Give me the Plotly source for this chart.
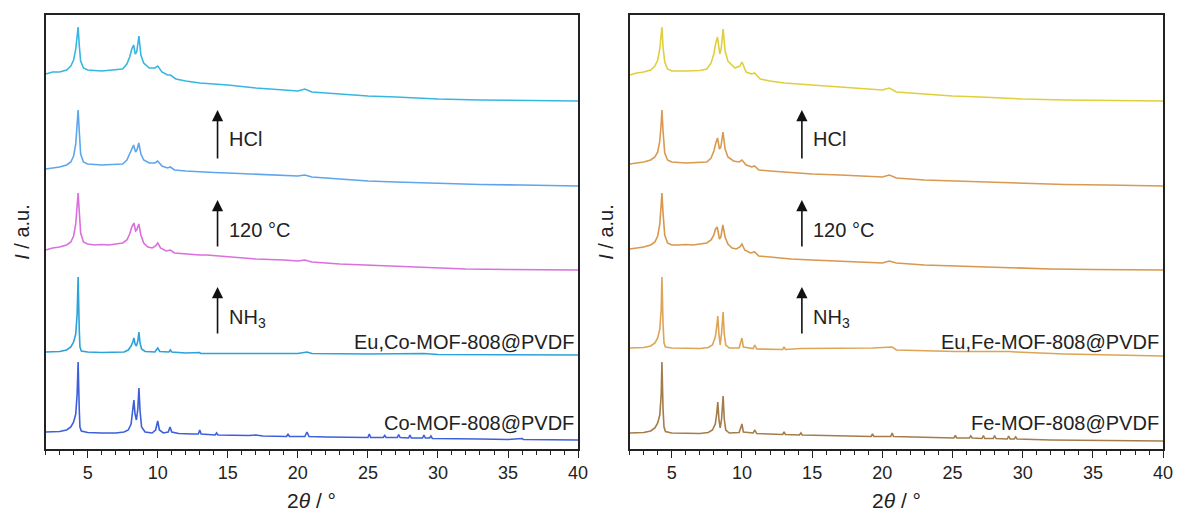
import plotly.graph_objects as go

# ---------------- data (heights, arbitrary units) ----------------
# Left panel: Co series
co_x = [2.0, 2.5, 3.0, 3.5, 3.8, 4.0, 4.15, 4.25, 4.32, 4.4, 4.45, 4.55, 5.0, 6.0, 7.0, 7.6, 7.9, 8.1, 8.22, 8.3, 8.38, 8.48,
        8.58, 8.66, 8.74, 8.85, 9.1, 9.6, 9.85, 10.0, 10.12, 10.4, 10.75, 10.88, 11.0, 11.5, 12.5, 12.9, 13.0, 13.1, 14.1, 14.2,
        14.3, 15.5, 16.5, 17.0, 17.5, 19.2, 19.3, 19.4, 20.5, 20.65, 20.8, 22.0, 23.0, 25.0, 25.1, 25.2, 26.1, 26.2, 26.3, 27.1,
        27.2, 27.3, 27.9, 28.0, 28.1, 28.9, 29.0, 29.1, 29.4, 29.5, 29.6, 31.0, 33.0, 35.0, 36.0, 36.1, 38.0, 40.0]
co_y = [17, 17, 17.5, 19, 22, 27, 35, 55, 87, 40, 22, 18, 16.5, 16, 16, 17, 19, 25, 38, 49, 35, 29,
        40, 61, 38, 22, 17, 16, 19, 28, 19, 16, 17, 22, 17, 15.5, 15, 15, 19, 15, 14, 16,
        14, 13.5, 13.5, 14, 13, 12.5, 15, 12.5, 12.5, 17, 12.5, 12, 12, 11.5, 15, 11.5, 11.5, 13.5, 11.5, 11.5,
        14.5, 11.5, 11, 14, 11, 11, 14, 11, 11, 13, 10.5, 10, 10, 9.5, 10.5, 9.5, 9, 9]

euco_x = [2.0, 3.0, 3.5, 3.8, 4.0, 4.15, 4.25, 4.32, 4.4, 4.45, 4.55, 5.0, 6.0, 7.0, 7.6, 7.9, 8.1, 8.22, 8.3, 8.38, 8.48,
          8.58, 8.66, 8.74, 8.85, 9.1, 9.8, 10.0, 10.15, 10.8, 10.9, 11.0, 12.0, 13.0, 13.05, 15.0, 19.3, 20.0, 20.65, 21.0,
          25.0, 27.2, 29.0, 30.0, 35.0, 40.0]
euco_y = [97, 97.5, 99, 102, 107, 115, 135, 172, 120, 102, 98, 97, 96.5, 96.5, 97, 99, 103, 107, 111, 105, 103,
          108, 117, 106, 100, 97.5, 97, 101, 97.5, 97, 99, 97, 96, 96.5, 95.5, 95.5, 96, 95.5, 97, 95.5,
          95, 95.5, 95.5, 94.5, 94, 94]

co120_x = [2.0, 2.5, 3.0, 3.5, 3.8, 4.0, 4.15, 4.25, 4.32, 4.4, 4.5, 4.7, 5.0, 5.5, 6.0, 6.5, 7.0, 7.5, 7.8, 8.0, 8.15,
           8.3, 8.42, 8.5, 8.65, 8.8, 9.0, 9.3, 9.6, 9.85, 10.0, 10.2, 10.6, 10.9, 11.2, 12.0, 13.0, 13.5, 15.0, 17.0, 19.0,
           20.0, 20.5, 21.0, 23.0, 25.0, 27.0, 29.0, 30.0, 32.0, 35.0, 38.0, 40.0]
co120_y = [199, 201, 202, 204, 207, 213, 225, 245, 256, 238, 216, 207, 205, 204, 204.5, 204, 205, 206, 209, 215, 222,
           226, 218, 219, 225, 214, 206, 202, 201, 203, 206, 201, 198, 199, 196, 195, 194, 194, 192, 190, 189,
           188, 189, 187, 185, 184, 183, 182, 181, 180, 179.5, 179, 179]

cohcl_x = [2.0, 2.5, 3.0, 3.5, 3.8, 4.0, 4.15, 4.25, 4.32, 4.4, 4.5, 4.7, 5.0, 6.0, 7.0, 7.5, 7.8, 8.0, 8.15, 8.28, 8.42,
           8.52, 8.65, 8.8, 9.0, 9.4, 9.8, 10.0, 10.3, 10.7, 10.9, 11.2, 12.0, 13.0, 14.0, 15.0, 17.0, 19.0, 20.0, 20.5,
           21.0, 23.0, 25.0, 27.0, 30.0, 33.0, 36.0, 40.0]
cohcl_y = [280, 281, 282, 284, 287, 293, 305, 325, 339, 318, 295, 287, 285, 284, 284.5, 285, 289, 295, 301, 304, 297,
           299, 306, 295, 289, 286, 286, 288, 283, 281, 282, 279, 278, 277, 276.5, 276, 275, 274, 273, 274,
           272, 270, 268, 267, 265.5, 264.5, 264, 263]

cofin_x = [2.0, 2.5, 3.0, 3.5, 3.8, 4.0, 4.15, 4.25, 4.32, 4.4, 4.5, 4.7, 5.0, 6.0, 7.0, 7.5, 7.8, 8.0, 8.15, 8.28, 8.4,
           8.5, 8.66, 8.8, 9.0, 9.4, 9.8, 10.0, 10.3, 10.7, 10.9, 11.3, 12.0, 13.0, 14.0, 15.0, 17.0, 19.0, 20.0, 20.5,
           21.0, 23.0, 25.0, 27.0, 30.0, 33.0, 36.0, 40.0]
cofin_y = [375, 377, 377, 379, 383, 389, 400, 415, 422, 404, 388, 381, 379, 378, 379, 380, 385, 392, 400, 404, 395,
           397, 413, 394, 386, 381, 381, 383, 377, 374, 374, 370, 368, 366, 365, 364, 361, 359, 358, 360,
           357, 355, 353, 352, 350, 349, 348.5, 348]

# Right panel: Fe series
fe_x = [2.0, 3.0, 3.5, 3.8, 4.0, 4.15, 4.25, 4.3, 4.38, 4.45, 4.55, 5.0, 7.0, 7.6, 7.9, 8.1, 8.2, 8.28, 8.36, 8.45, 8.55,
        8.66, 8.74, 8.85, 9.1, 9.8, 10.0, 10.1, 10.8, 10.92, 11.05, 12.9, 13.0, 13.1, 14.1, 14.2, 14.3, 17.0, 19.2, 19.3,
        19.4, 20.6, 20.7, 20.8, 25.1, 25.2, 25.3, 26.2, 26.3, 26.4, 27.1, 27.2, 27.3, 27.9, 28.0, 28.1, 28.9, 29.0, 29.1,
        29.4, 29.5, 29.6, 32.0, 36.0, 40.0]
fe_y = [16, 16.5, 18, 21, 26, 34, 55, 87, 40, 22, 17.5, 16, 15.5, 16.5, 19, 25, 35, 47, 30, 21, 30,
        53, 30, 19, 16, 16.5, 25, 17, 16, 19, 15.5, 14.5, 17, 14.5, 14, 16, 14, 13.5, 12.5, 15,
        12.5, 12.5, 16, 12.5, 11, 13.5, 11, 11, 13, 11, 10.5, 13.5, 10.5, 10.5, 13.5, 10.5, 10, 13, 10,
        10, 12, 10, 9, 8.5, 8]

eufe_x = [2.0, 3.0, 3.5, 3.8, 4.0, 4.15, 4.25, 4.3, 4.38, 4.45, 4.55, 5.0, 7.0, 7.6, 7.9, 8.1, 8.2, 8.28, 8.36, 8.45, 8.55,
          8.66, 8.74, 8.85, 9.1, 9.8, 10.0, 10.1, 10.8, 10.92, 11.05, 12.9, 13.0, 13.1, 14.2, 19.3, 20.7, 21.0, 25.2, 26.3,
          27.2, 28.0, 29.0, 29.5, 33.0, 40.0]
eufe_y = [101, 101.5, 103, 106, 111, 120, 140, 172, 125, 106, 102, 101, 100.5, 101.5, 104, 112, 122, 133, 115, 104, 116,
          137, 115, 104, 101, 101, 111, 102, 100.5, 104, 100, 99.5, 102, 99.5, 100.5, 101, 102, 99, 97.5, 97.5,
          98, 97.5, 97.5, 97, 95, 93]

fe120_x = [2.0, 2.5, 3.0, 3.5, 3.8, 4.0, 4.15, 4.25, 4.3, 4.38, 4.5, 4.7, 5.0, 5.5, 6.0, 6.5, 7.0, 7.5, 7.8, 8.0, 8.12,
           8.24, 8.4, 8.5, 8.64, 8.8, 9.0, 9.3, 9.6, 9.85, 10.0, 10.2, 10.6, 10.9, 11.2, 12.0, 13.0, 13.5, 15.0, 17.0, 19.0,
           20.0, 20.5, 21.0, 23.0, 25.0, 27.0, 29.0, 30.0, 32.0, 35.0, 38.0, 40.0]
fe120_y = [200, 201, 202, 204, 207, 213, 225, 245, 256, 236, 214, 206, 204, 204, 204.5, 204, 205, 206, 209, 214, 220,
           222, 210, 212, 224, 212, 205, 201, 200, 202, 205, 199, 196, 197, 193, 192, 190, 190, 189, 188, 187,
           186, 188, 186, 184, 183, 182, 181, 180.5, 180, 179.5, 179, 179]

fehcl_x = [2.0, 2.5, 3.0, 3.5, 3.8, 4.0, 4.15, 4.25, 4.3, 4.38, 4.5, 4.7, 5.0, 6.0, 7.0, 7.5, 7.8, 8.0, 8.12, 8.26, 8.4,
           8.5, 8.65, 8.8, 9.0, 9.4, 9.8, 10.0, 10.3, 10.7, 10.9, 11.2, 12.0, 13.0, 14.0, 15.0, 17.0, 19.0, 20.0, 20.5,
           21.0, 23.0, 25.0, 27.0, 30.0, 33.0, 36.0, 40.0]
fehcl_y = [285, 286, 287, 289, 292, 297, 308, 326, 339, 318, 296, 289, 287, 286, 286.5, 287, 291, 298, 305, 311, 300,
           302, 317, 300, 292, 288, 287, 289, 284, 282, 283, 279, 278, 277, 276, 275, 274, 273, 272, 274,
           271, 269, 268, 267, 265.5, 264.5, 264, 263]

fefin_x = [2.0, 2.5, 3.0, 3.5, 3.8, 4.0, 4.15, 4.25, 4.3, 4.38, 4.5, 4.7, 5.0, 6.0, 7.0, 7.5, 7.8, 8.0, 8.12, 8.26, 8.42,
           8.52, 8.66, 8.8, 9.0, 9.5, 9.85, 10.0, 10.3, 10.7, 10.9, 11.3, 12.0, 13.0, 14.0, 15.0, 17.0, 19.0, 20.0, 20.5,
           21.0, 23.0, 25.0, 27.0, 30.0, 33.0, 36.0, 40.0]
fefin_y = [374, 376, 377, 379, 383, 389, 400, 416, 422, 402, 387, 380, 378, 378, 378.5, 380, 386, 395, 405, 412, 395,
           400, 420, 398, 388, 381, 383, 387, 377, 375, 376, 370, 368, 366, 365, 364, 362, 360, 359, 361,
           357, 355, 353, 352, 350, 349, 348.5, 348]

left_series = [
    (co_x, co_y, "#3D60DA"),
    (euco_x, euco_y, "#2BA2DA"),
    (co120_x, co120_y, "#DA6FDD"),
    (cohcl_x, cohcl_y, "#5EA6EC"),
    (cofin_x, cofin_y, "#38B6E2"),
]
right_series = [
    (fe_x, fe_y, "#A47C4A"),
    (eufe_x, eufe_y, "#DEA456"),
    (fe120_x, fe120_y, "#D8974C"),
    (fehcl_x, fehcl_y, "#D99950"),
    (fefin_x, fefin_y, "#E0CF3C"),
]

left_labels = ["Co-MOF-808@PVDF", "Eu,Co-MOF-808@PVDF"]
right_labels = ["Fe-MOF-808@PVDF", "Eu,Fe-MOF-808@PVDF"]
label_y = [26, 107]
step_texts = ["NH<sub>3</sub>", "120 °C", "HCl"]
arrow_tip = [162, 249, 339]
arrow_tail = [114, 201, 289]
step_text_y = [131, 219, 310]

# ---------------- figure ----------------
W, H = 1183, 516
FONT = "Arial, Liberation Sans, sans-serif"
fig = go.Figure()

for xs, ys, c in left_series:
    fig.add_trace(go.Scatter(x=xs, y=ys, mode="lines", line=dict(color=c, width=1.6),
                             xaxis="x", yaxis="y", showlegend=False, hoverinfo="skip"))
for xs, ys, c in right_series:
    fig.add_trace(go.Scatter(x=xs, y=ys, mode="lines", line=dict(color=c, width=1.6),
                             xaxis="x2", yaxis="y2", showlegend=False, hoverinfo="skip"))

ydom = [1 - 449 / H, 1 - 15 / H]
xdom1 = [46 / W, 583 / W]
xdom2 = [635 / W, 1173 / W]

xcommon = dict(range=[2, 40], tick0=0, dtick=5, ticks="outside", ticklen=7, tickwidth=1.3,
               tickcolor="#222", showline=True, linecolor="#222", linewidth=1.5, mirror=True,
               showgrid=False, zeroline=False,
               tickfont=dict(family=FONT, size=18, color="#222"),
               minor=dict(ticks="outside", dtick=1, ticklen=4, tickwidth=1.2, tickcolor="#222", showgrid=False))
ycommon = dict(range=[0, 434], showticklabels=False, ticks="", showline=True, linecolor="#222",
               linewidth=1.5, mirror=True, showgrid=False, zeroline=False)

fig.update_layout(
    width=W, height=H, margin=dict(l=0, r=0, t=0, b=0),
    paper_bgcolor="white", plot_bgcolor="white",
    xaxis=dict(domain=xdom1, anchor="y", **xcommon),
    yaxis=dict(domain=ydom, anchor="x", **ycommon),
    xaxis2=dict(domain=xdom2, anchor="y2", **xcommon),
    yaxis2=dict(domain=ydom, anchor="x2", **ycommon),
)

anns = []
for xr, yr, labels, dom in [("x", "y", left_labels, xdom1), ("x2", "y2", right_labels, xdom2)]:
    for lab, ly in zip(labels, label_y):
        anns.append(dict(x=39.85, y=ly, xref=xr, yref=yr, text=lab, showarrow=False,
                         xanchor="right", yanchor="middle",
                         font=dict(family=FONT, size=20, color="#222")))
    for t, tip, tail, ty in zip(step_texts, arrow_tip, arrow_tail, step_text_y):
        anns.append(dict(x=14.27, y=tip, ax=14.27, ay=tail, xref=xr, yref=yr, axref=xr, ayref=yr,
                         text="", showarrow=True, arrowhead=2, arrowsize=1.4, arrowwidth=1.6,
                         arrowcolor="#111"))
        anns.append(dict(x=14.95, y=ty, xref=xr, yref=yr, text=t, showarrow=False,
                         xanchor="left", yanchor="middle",
                         font=dict(family=FONT, size=20, color="#222")))
    # x-axis title
    anns.append(dict(x=(dom[0] + dom[1]) / 2, y=1 - 500 / H, xref="paper", yref="paper",
                     text="2<i>θ</i> / °", showarrow=False, xanchor="center", yanchor="middle",
                     font=dict(family=FONT, size=21, color="#222")))
    # y-axis title
    anns.append(dict(x=(dom[0] * W - 24) / W, y=1 - 232 / H, xref="paper", yref="paper",
                     text="<i>I</i> / a.u.", showarrow=False, textangle=-90,
                     xanchor="center", yanchor="middle",
                     font=dict(family=FONT, size=20, color="#222")))

fig.update_layout(annotations=anns)
fig.write_html("out.html")
